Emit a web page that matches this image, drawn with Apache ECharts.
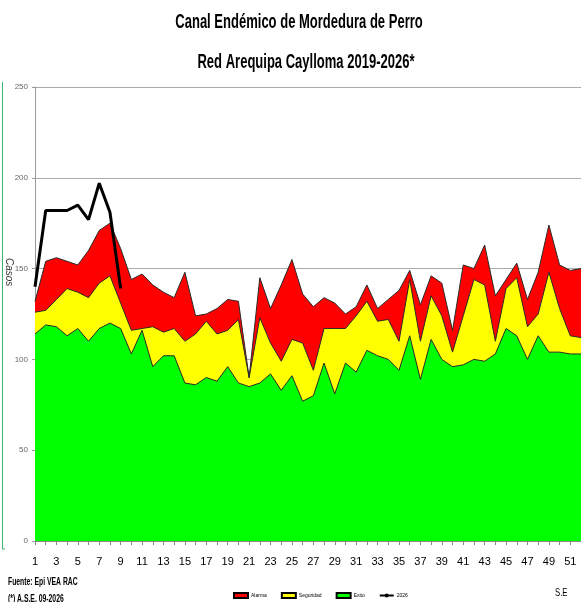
<!DOCTYPE html>
<html>
<head>
<meta charset="utf-8">
<title>Canal Endémico de Mordedura de Perro</title>
<script src="https://cdn.jsdelivr.net/npm/echarts@6/dist/echarts.min.js"></script>
<style>
  html, body { margin: 0; padding: 0; background: #fff; }
  #canal { width: 581px; height: 602px; }
</style>
</head>
<body>
<div id="canal"></div>
<script>
// semanas epidemiologicas (S.E)
var semanas = ['1','2','3','4','5','6','7','8','9','10','11','12','13','14','15','16','17','18','19','20',
    '21','22','23','24','25','26','27','28','29','30','31','32','33','34','35','36','37','38','39','40',
    '41','42','43','44','45','46','47','48','49','50','51','52'];

// limites del canal endemico
var alarma = [132,154,156,154,152,160,171,175,161,144,147,141,137,134,148,124,125,128,133,132,
    90,145,128,141,155,136,129,134,131,125,129,141,128,133,138,149,130,146,142,116,
    152,150,163,135,144,153,133,148,174,152,149,150];
var seguridad = [126,127,133,139,137,134,142,146,131,116,117,118,115,117,110,114,121,114,116,122,
    90,123,109,99,111,109,94,117,117,117,124,132,121,122,110,144,110,135,124,104,
    124,144,141,110,139,145,118,125,148,128,113,112];
var exito = [114,119,118,113,117,110,117,120,117,103,116,96,102,102,87,86,90,88,96,87,
    85,87,92,83,91,77,80,98,81,98,93,105,102,100,94,113,89,111,100,96,
    97,100,99,103,117,113,100,113,104,104,103,103];

// casos 2026 hasta la S.E 9
var casos2026 = [140,182,182,182,185,177,197,181,139];

var yTicks = [0, 50, 100, 150, 200, 250];

(function(){
    var dom = document.getElementById("canal");
    var chart = echarts.init(dom);
    var option = null;
    var fuente = "'Liberation Sans', Arial, sans-serif";

    function areaSerie(nombre, datos, color) {
        return {
            name: nombre,
            type: 'line',
            data: datos,
            symbol: 'none',
            showSymbol: false,
            lineStyle: { color: '#2a2a2a', width: 1 },
            itemStyle: { color: color, borderColor: '#000', borderWidth: 1 },
            areaStyle: { color: color, opacity: 1 },
            emphasis: { disabled: true },
            animation: false
        };
    }

    // texto angosto (la fuente original es tipo Arial Narrow)
    function textoAngosto(txt, x, y, size, peso, escala, alinea) {
        return {
            type: 'text',
            x: x, y: y,
            scaleX: escala,
            style: {
                text: txt, x: 0, y: 0,
                align: alinea, verticalAlign: 'middle',
                textAlign: alinea, textVerticalAlign: 'middle',
                fontFamily: fuente, fontSize: size, fontWeight: peso, fill: '#000'
            }
        };
    }

    option = {
        backgroundColor: '#fff',
        animation: false,
        legend: {
            left: 228,
            top: 587,
            itemWidth: 14,
            itemHeight: 5,
            itemGap: 14,
            textStyle: { fontFamily: fuente, fontSize: 5, color: '#000', padding: [0, 0, 0, -2] },
            data: [
                { name: 'Alarma', icon: 'rect' },
                { name: 'Seguridad', icon: 'rect' },
                { name: 'Exito', icon: 'rect' },
                { name: '2026' }
            ]
        },
        grid: { left: 35, right: -7, top: 87, bottom: 61, containLabel: false },
        xAxis: {
            type: 'category',
            data: semanas,
            boundaryGap: false,
            axisLine: { lineStyle: { color: '#888' } },
            axisTick: { show: true, interval: 0, length: 4, lineStyle: { color: '#888' } },
            axisLabel: { interval: 1, margin: 15, fontFamily: fuente, fontSize: 11, color: '#000' },
            splitLine: { show: false }
        },
        yAxis: {
            type: 'value',
            min: yTicks[0],
            max: yTicks[yTicks.length - 1],
            interval: 50,
            axisLine: { show: true, lineStyle: { color: '#999' } },
            axisTick: { show: true, length: 3, lineStyle: { color: '#999' } },
            axisLabel: { margin: 7, fontFamily: fuente, fontSize: 8, color: '#666' },
            splitLine: { lineStyle: { color: '#aaa', width: 1 } }
        },
        graphic: [
            textoAngosto('Canal Endémico de Mordedura de Perro', 299, 22, 21, 'bold', 0.62, 'center'),
            textoAngosto('Red Arequipa Caylloma 2019-2026*', 306, 62, 21, 'bold', 0.62, 'center'),
            {
                type: 'text',
                left: 4, top: 258,
                rotation: -Math.PI / 2,
                style: { text: 'Casos', fontFamily: fuente, fontSize: 10, fontStyle: 'italic', fill: '#333' }
            },
            {
                type: 'polyline',
                shape: { points: [[2.5, 82], [2.5, 549], [5, 549]] },
                style: { stroke: '#3cb371', lineWidth: 1, fill: null }
            },
            textoAngosto('Fuente: Epi VEA RAC', 8, 582, 11, 'bold', 0.62, 'left'),
            textoAngosto('(*) A.S.E. 09-2026', 8, 599, 11, 'bold', 0.62, 'left'),
            textoAngosto('S.E', 555, 593, 11, 'normal', 0.7, 'left')
        ],
        series: [
            areaSerie('Alarma', alarma, '#ff0000'),
            areaSerie('Seguridad', seguridad, '#ffff00'),
            areaSerie('Exito', exito, '#00ff00'),
            {
                name: '2026',
                type: 'line',
                data: casos2026,
                symbol: 'none',
                showSymbol: false,
                itemStyle: { color: '#000' },
                lineStyle: { color: '#000', width: 3 },
                z: 5,
                animation: false
            }
        ]
    };
    if (option && typeof option === "object") {
        chart.setOption(option, true);
    }
})();
</script>
</body>
</html>
